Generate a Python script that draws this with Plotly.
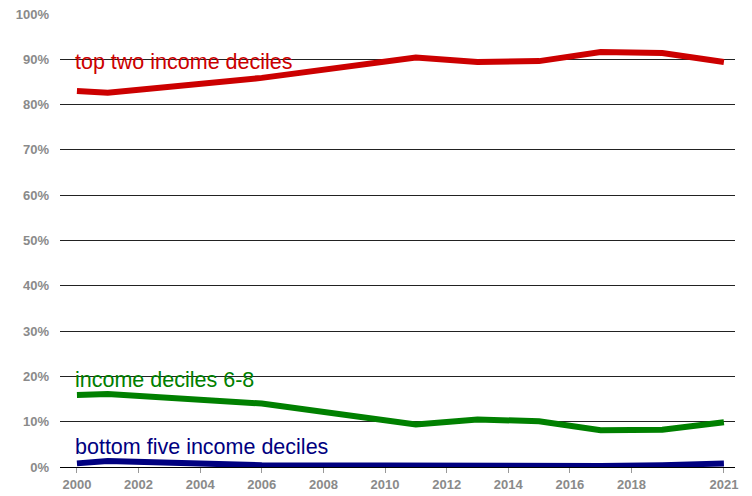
import plotly.graph_objects as go

years = [2000, 2001, 2006, 2011, 2013, 2015, 2017, 2019, 2021]
top_two = [83.0, 82.6, 85.9, 90.4, 89.4, 89.6, 91.6, 91.4, 89.4]
deciles_6_8 = [15.9, 16.1, 14.0, 9.4, 10.5, 10.1, 8.1, 8.2, 9.9]
bottom_five = [0.8, 1.3, 0.4, 0.2, 0.3, 0.3, 0.2, 0.4, 0.8]

series_names = ["top two income deciles", "income deciles 6-8", "bottom five income deciles"]
series_values = [top_two, deciles_6_8, bottom_five]
series_colors = ["#cc0000", "#008000", "#000080"]
label_y = [89.3, 19.3, 4.5]

x_ticks = [2000, 2002, 2004, 2006, 2008, 2010, 2012, 2014, 2016, 2018, 2021]
y_ticks = list(range(0, 101, 10))

fig = go.Figure()
for name, vals, color in zip(series_names, series_values, series_colors):
    fig.add_trace(go.Scatter(x=years, y=vals, mode="lines", name=name,
                             line=dict(color=color, width=6)))

for name, ly, color in zip(series_names, label_y, series_colors):
    fig.add_annotation(x=years[0], y=ly, text=name, showarrow=False,
                       xanchor="left", yanchor="middle", xshift=-4,
                       font=dict(family="Liberation Sans, Arial", size=21.5, color=color))

fig.update_layout(
    width=752, height=496,
    margin=dict(l=60, r=17, t=14, b=29, autoexpand=False),
    plot_bgcolor="white", paper_bgcolor="white",
    showlegend=False,
    font=dict(family="Liberation Sans, Arial", size=12, color="#808080"),
)
fig.update_xaxes(
    range=[1999.45, 2021.36], tickvals=x_ticks, ticktext=[str(t) for t in x_ticks],
    showgrid=False, zeroline=False, showline=False, automargin=False,
    ticks="outside", ticklen=5, tickcolor="#999999",
    tickfont=dict(family="Liberation Sans, Arial", size=13, color="#8a8a8a", weight="bold"),
)
fig.update_yaxes(
    range=[0, 100], tickvals=y_ticks, ticktext=[f"{t}%" for t in y_ticks],
    showgrid=True, gridcolor="#222222", gridwidth=1, zeroline=True,
    zerolinecolor="#000000", zerolinewidth=1, automargin=False,
    ticks="", ticklabelstandoff=10,
    tickfont=dict(family="Liberation Sans, Arial", size=13, color="#8a8a8a", weight="bold"),
)

fig.write_html("out.html")
